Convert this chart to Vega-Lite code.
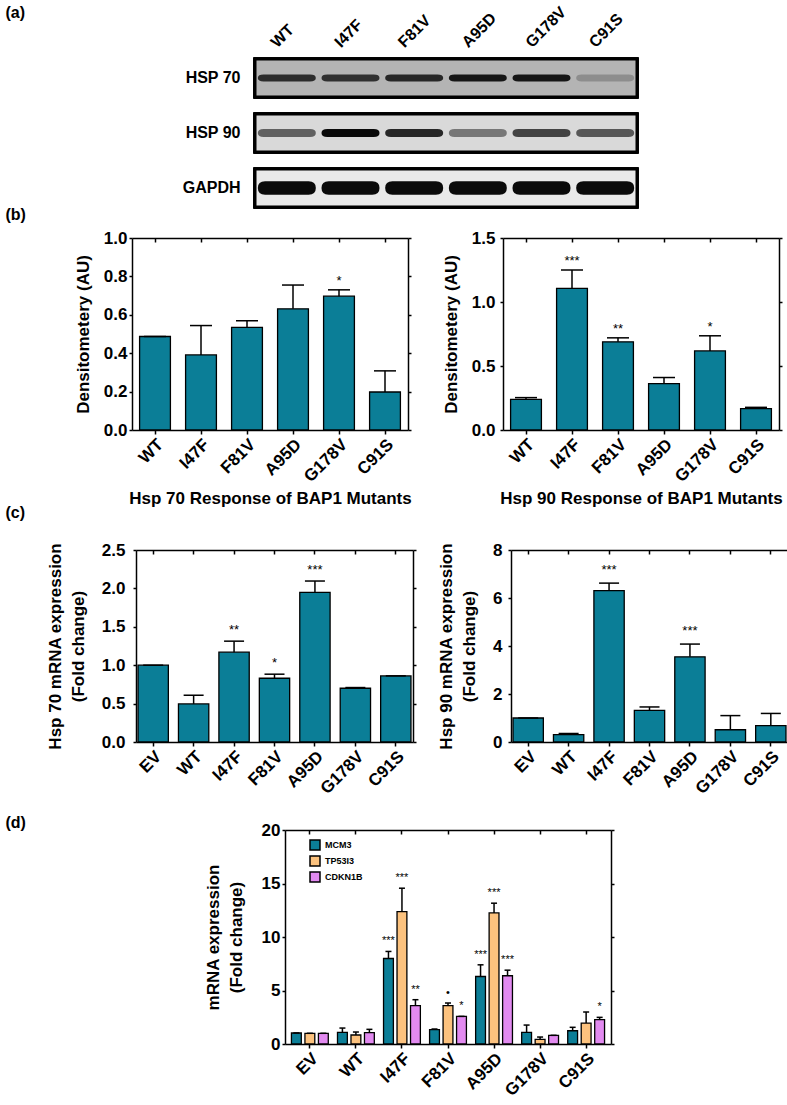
{
  "$schema": "https://vega.github.io/schema/vega-lite/v6.json",
  "background": "white",
  "padding": {"left": 5, "top": 3, "right": 0, "bottom": 5},
  "config": {
    "font": "Liberation Sans",
    "view": {"stroke": null},
    "axis": {"domainColor": "black", "domainWidth": 1.5, "tickColor": "black", "tickWidth": 1.5, "labelColor": "black", "labelFontSize": 17, "labelFontWeight": "bold", "titleColor": "black", "titleFontSize": 17, "titleFontWeight": "bold", "grid": false, "tickSize": 4, "labelPadding": 2, "labelFlush": false, "labelOverlap": false},
    "text": {"font": "Liberation Sans", "color": "black"}
  },
  "columns": 1,
  "spacing": 17,
  "resolve": {"scale": {"color": "independent", "shape": "independent"}, "legend": {"color": "independent", "shape": "independent"}},
  "concat": [
    {
      "columns": 1,
      "spacing": -3,
      "resolve": {"scale": {"color": "independent", "shape": "independent"}, "legend": {"color": "independent", "shape": "independent"}},
      "concat": [
        {
          "spacing": 156,
          "resolve": {"scale": {"color": "independent", "shape": "independent"}, "legend": {"color": "independent", "shape": "independent"}},
          "hconcat": [
            {
              "width": 1,
              "height": 1,
              "data": {"values": [{"label": "(a)"}]},
              "mark": {"type": "text", "align": "left", "baseline": "middle", "fontSize": 16, "fontWeight": "bold", "dy": -47},
              "encoding": {"text": {"field": "label"}}
            },
            {
              "width": 382,
              "height": 148,
              "data": {"values": [
                {"lane": "WT", "protein": "HSP 70", "intensity": 0.82},
                {"lane": "I47F", "protein": "HSP 70", "intensity": 0.8},
                {"lane": "F81V", "protein": "HSP 70", "intensity": 0.85},
                {"lane": "A95D", "protein": "HSP 70", "intensity": 0.95},
                {"lane": "G178V", "protein": "HSP 70", "intensity": 0.95},
                {"lane": "C91S", "protein": "HSP 70", "intensity": 0.35},
                {"lane": "WT", "protein": "HSP 90", "intensity": 0.55},
                {"lane": "I47F", "protein": "HSP 90", "intensity": 1.0},
                {"lane": "F81V", "protein": "HSP 90", "intensity": 0.85},
                {"lane": "A95D", "protein": "HSP 90", "intensity": 0.45},
                {"lane": "G178V", "protein": "HSP 90", "intensity": 0.7},
                {"lane": "C91S", "protein": "HSP 90", "intensity": 0.6},
                {"lane": "WT", "protein": "GAPDH", "intensity": 1.0},
                {"lane": "I47F", "protein": "GAPDH", "intensity": 1.0},
                {"lane": "F81V", "protein": "GAPDH", "intensity": 1.0},
                {"lane": "A95D", "protein": "GAPDH", "intensity": 1.0},
                {"lane": "G178V", "protein": "GAPDH", "intensity": 1.0},
                {"lane": "C91S", "protein": "GAPDH", "intensity": 1.0}
              ]},
              "layer": [
                {
                  "mark": {"type": "rect", "stroke": "black", "strokeWidth": 3},
                  "encoding": {
                    "y": {"field": "protein", "type": "nominal", "sort": ["HSP 70", "HSP 90", "GAPDH"], "scale": {"paddingInner": 0.31, "paddingOuter": 0}, "axis": {"title": null, "domain": false, "ticks": false, "labelPadding": 15, "labelFontSize": 16}},
                    "color": {"field": "protein", "type": "nominal", "scale": {"domain": ["HSP 70", "HSP 90", "GAPDH"], "range": ["#b4b4b4", "#d9d9d9", "#e9e9e9"]}, "legend": null}
                  }
                },
                {
                  "mark": {"type": "point", "filled": true, "size": 3364, "opacity": 1},
                  "encoding": {
                    "x": {"field": "lane", "type": "nominal", "sort": ["WT", "I47F", "F81V", "A95D", "G178V", "C91S"], "axis": {"orient": "top", "title": null, "domain": false, "ticks": false, "labelAngle": -45, "labelPadding": 9, "labelOffset": -8, "labelFontSize": 16}},
                    "y": {"field": "protein", "type": "nominal", "sort": ["HSP 70", "HSP 90", "GAPDH"]},
                    "shape": {"field": "protein", "type": "nominal", "scale": {"domain": ["HSP 70", "HSP 90", "GAPDH"], "range": [
                      "M-1,0 Q-1,-0.12 -0.8,-0.12 L0.8,-0.12 Q1,-0.12 1,0 Q1,0.12 0.8,0.12 L-0.8,0.12 Q-1,0.12 -1,0 Z",
                      "M-1,0 Q-1,-0.14 -0.8,-0.14 L0.8,-0.14 Q1,-0.14 1,0 Q1,0.14 0.8,0.14 L-0.8,0.14 Q-1,0.14 -1,0 Z",
                      "M-1,0 Q-1,-0.23 -0.75,-0.23 L0.75,-0.23 Q1,-0.23 1,0 Q1,0.23 0.75,0.23 L-0.75,0.23 Q-1,0.23 -1,0 Z"
                    ]}, "legend": null},
                    "color": {"field": "intensity", "type": "quantitative", "scale": {"domain": [0, 1], "range": ["#dedede", "#0a0a0a"]}, "legend": null}
                  }
                }
              ],
              "resolve": {"scale": {"color": "independent"}}
            }
          ]
        },
        {
          "spacing": 48,
          "hconcat": [
            {
              "width": 1,
              "height": 1,
              "data": {"values": [{"label": "(b)"}]},
              "mark": {"type": "text", "align": "left", "baseline": "middle", "fontSize": 16, "fontWeight": "bold", "dy": -24},
              "encoding": {"text": {"field": "label"}}
            },
            {
              "spacing": 30,
              "hconcat": [
                {
                  "width": 276,
                  "height": 192,
                  "data": {"values": [
                    {"g": "WT", "v": 0.487, "hi": 0.487, "sig": ""},
                    {"g": "I47F", "v": 0.391, "hi": 0.544, "sig": ""},
                    {"g": "F81V", "v": 0.534, "hi": 0.569, "sig": ""},
                    {"g": "A95D", "v": 0.631, "hi": 0.755, "sig": ""},
                    {"g": "G178V", "v": 0.697, "hi": 0.73, "sig": "*"},
                    {"g": "C91S", "v": 0.198, "hi": 0.308, "sig": ""}
                  ]},
                  "layer": [
                    {
                      "mark": {"type": "bar", "fill": "#0b7e97", "stroke": "black", "strokeWidth": 1.3},
                      "encoding": {
                        "x": {"field": "g", "type": "nominal", "sort": null, "scale": {"paddingInner": 0.33, "paddingOuter": 0.165}, "axis": {"orient": "bottom", "labelAngle": -45, "title": "Hsp 70 Response of BAP1 Mutants", "titleFontSize": 17, "titlePadding": 6}},
                        "y": {"field": "v", "type": "quantitative", "scale": {"domain": [0, 1], "nice": false}, "axis": {"orient": "left", "values": [0, 0.2, 0.4, 0.6, 0.8, 1], "format": ".1f", "tickSize": 3, "title": "Densitometery (AU)", "titlePadding": 11}}
                      }
                    },
                    {
                      "mark": {"type": "rule", "strokeWidth": 1.5, "color": "black"},
                      "encoding": {
                        "x": {"field": "g", "type": "nominal", "sort": null, "axis": null},
                        "y": {"field": "v", "type": "quantitative", "scale": {"domain": [0, 1], "nice": false}, "axis": null},
                        "y2": {"field": "hi"}
                      }
                    },
                    {
                      "mark": {"type": "tick", "thickness": 1.5, "size": 22, "color": "black", "opacity": 1},
                      "encoding": {
                        "x": {"field": "g", "type": "nominal", "sort": null, "axis": null},
                        "y": {"field": "hi", "type": "quantitative", "scale": {"domain": [0, 1], "nice": false}, "axis": null}
                      }
                    },
                    {
                      "mark": {"type": "text", "dy": -9, "fontSize": 13},
                      "encoding": {
                        "x": {"field": "g", "type": "nominal", "sort": null, "axis": null},
                        "y": {"field": "hi", "type": "quantitative", "scale": {"domain": [0, 1], "nice": false}, "axis": null},
                        "text": {"field": "sig"}
                      }
                    },
                    {
                      "mark": {"type": "point", "opacity": 0},
                      "encoding": {
                        "x": {"field": "g", "type": "nominal", "sort": null, "axis": {"orient": "top", "labels": false, "tickSize": -4, "title": null}},
                        "y": {"field": "v", "type": "quantitative", "scale": {"domain": [0, 1], "nice": false}, "axis": {"orient": "right", "labels": false, "values": [0, 0.2, 0.4, 0.6, 0.8, 1], "tickSize": 3, "title": null}}
                      }
                    }
                  ],
                  "resolve": {"axis": {"x": "independent", "y": "independent"}}
                },
                {
                  "width": 276,
                  "height": 192,
                  "data": {"values": [
                    {"g": "WT", "v": 0.24, "hi": 0.253, "sig": ""},
                    {"g": "I47F", "v": 1.106, "hi": 1.25, "sig": "***"},
                    {"g": "F81V", "v": 0.689, "hi": 0.72, "sig": "**"},
                    {"g": "A95D", "v": 0.363, "hi": 0.41, "sig": ""},
                    {"g": "G178V", "v": 0.618, "hi": 0.736, "sig": "*"},
                    {"g": "C91S", "v": 0.167, "hi": 0.177, "sig": ""}
                  ]},
                  "layer": [
                    {
                      "mark": {"type": "bar", "fill": "#0b7e97", "stroke": "black", "strokeWidth": 1.3},
                      "encoding": {
                        "x": {"field": "g", "type": "nominal", "sort": null, "scale": {"paddingInner": 0.33, "paddingOuter": 0.165}, "axis": {"orient": "bottom", "labelAngle": -45, "title": "Hsp 90 Response of BAP1 Mutants", "titleFontSize": 17, "titlePadding": 6}},
                        "y": {"field": "v", "type": "quantitative", "scale": {"domain": [0, 1.5], "nice": false}, "axis": {"orient": "left", "values": [0, 0.5, 1, 1.5], "format": ".1f", "tickSize": 3, "labelPadding": 5, "title": "Densitometery (AU)", "titlePadding": 11}}
                      }
                    },
                    {
                      "mark": {"type": "rule", "strokeWidth": 1.5, "color": "black"},
                      "encoding": {
                        "x": {"field": "g", "type": "nominal", "sort": null, "axis": null},
                        "y": {"field": "v", "type": "quantitative", "scale": {"domain": [0, 1.5], "nice": false}, "axis": null},
                        "y2": {"field": "hi"}
                      }
                    },
                    {
                      "mark": {"type": "tick", "thickness": 1.5, "size": 22, "color": "black", "opacity": 1},
                      "encoding": {
                        "x": {"field": "g", "type": "nominal", "sort": null, "axis": null},
                        "y": {"field": "hi", "type": "quantitative", "scale": {"domain": [0, 1.5], "nice": false}, "axis": null}
                      }
                    },
                    {
                      "mark": {"type": "text", "dy": -9, "fontSize": 13},
                      "encoding": {
                        "x": {"field": "g", "type": "nominal", "sort": null, "axis": null},
                        "y": {"field": "hi", "type": "quantitative", "scale": {"domain": [0, 1.5], "nice": false}, "axis": null},
                        "text": {"field": "sig"}
                      }
                    },
                    {
                      "mark": {"type": "point", "opacity": 0},
                      "encoding": {
                        "x": {"field": "g", "type": "nominal", "sort": null, "axis": {"orient": "top", "labels": false, "tickSize": -4, "title": null}},
                        "y": {"field": "v", "type": "quantitative", "scale": {"domain": [0, 1.5], "nice": false}, "axis": {"orient": "right", "labels": false, "values": [0, 0.5, 1, 1.5], "tickSize": 3, "title": null}}
                      }
                    }
                  ],
                  "resolve": {"axis": {"x": "independent", "y": "independent"}}
                }
              ]
            }
          ]
        },
        {
          "spacing": 20,
          "hconcat": [
            {
              "width": 1,
              "height": 1,
              "data": {"values": [{"label": "(c)"}]},
              "mark": {"type": "text", "align": "left", "baseline": "middle", "fontSize": 16, "fontWeight": "bold", "dy": -38},
              "encoding": {"text": {"field": "label"}}
            },
            {
              "spacing": 20,
              "hconcat": [
                {
                  "width": 277,
                  "height": 192,
                  "data": {"values": [
                    {"g": "EV", "v": 1.0, "hi": 1.0, "sig": ""},
                    {"g": "WT", "v": 0.496, "hi": 0.609, "sig": ""},
                    {"g": "I47F", "v": 1.17, "hi": 1.313, "sig": "**"},
                    {"g": "F81V", "v": 0.83, "hi": 0.883, "sig": "*"},
                    {"g": "A95D", "v": 1.948, "hi": 2.096, "sig": "***"},
                    {"g": "G178V", "v": 0.7, "hi": 0.709, "sig": ""},
                    {"g": "C91S", "v": 0.861, "hi": 0.861, "sig": ""}
                  ]},
                  "layer": [
                    {
                      "mark": {"type": "bar", "fill": "#0b7e97", "stroke": "black", "strokeWidth": 1.3},
                      "encoding": {
                        "x": {"field": "g", "type": "nominal", "sort": null, "scale": {"paddingInner": 0.25, "paddingOuter": 0.05}, "axis": {"orient": "bottom", "labelAngle": -45, "title": null}},
                        "y": {"field": "v", "type": "quantitative", "scale": {"domain": [0, 2.5], "nice": false}, "axis": {"orient": "left", "values": [0, 0.5, 1, 1.5, 2, 2.5], "format": ".1f", "tickSize": 3, "labelPadding": 8, "title": ["Hsp 70 mRNA expression", "(Fold change)"], "titleLineHeight": 23, "titlePadding": 14}}
                      }
                    },
                    {
                      "mark": {"type": "rule", "strokeWidth": 1.5, "color": "black"},
                      "encoding": {
                        "x": {"field": "g", "type": "nominal", "sort": null, "axis": null},
                        "y": {"field": "v", "type": "quantitative", "scale": {"domain": [0, 2.5], "nice": false}, "axis": null},
                        "y2": {"field": "hi"}
                      }
                    },
                    {
                      "mark": {"type": "tick", "thickness": 1.5, "size": 20, "color": "black", "opacity": 1},
                      "encoding": {
                        "x": {"field": "g", "type": "nominal", "sort": null, "axis": null},
                        "y": {"field": "hi", "type": "quantitative", "scale": {"domain": [0, 2.5], "nice": false}, "axis": null}
                      }
                    },
                    {
                      "mark": {"type": "text", "dy": -11, "fontSize": 13},
                      "encoding": {
                        "x": {"field": "g", "type": "nominal", "sort": null, "axis": null},
                        "y": {"field": "hi", "type": "quantitative", "scale": {"domain": [0, 2.5], "nice": false}, "axis": null},
                        "text": {"field": "sig"}
                      }
                    },
                    {
                      "mark": {"type": "point", "opacity": 0},
                      "encoding": {
                        "x": {"field": "g", "type": "nominal", "sort": null, "axis": {"orient": "top", "labels": false, "tickSize": -4, "title": null}},
                        "y": {"field": "v", "type": "quantitative", "scale": {"domain": [0, 2.5], "nice": false}, "axis": {"orient": "right", "labels": false, "values": [0, 0.5, 1, 1.5, 2, 2.5], "tickSize": 3, "title": null}}
                      }
                    }
                  ],
                  "resolve": {"axis": {"x": "independent", "y": "independent"}}
                },
                {
                  "width": 277,
                  "height": 192,
                  "data": {"values": [
                    {"g": "EV", "v": 1.0, "hi": 1.0, "sig": ""},
                    {"g": "WT", "v": 0.305, "hi": 0.35, "sig": ""},
                    {"g": "I47F", "v": 6.31, "hi": 6.62, "sig": "***"},
                    {"g": "F81V", "v": 1.32, "hi": 1.46, "sig": ""},
                    {"g": "A95D", "v": 3.55, "hi": 4.08, "sig": "***"},
                    {"g": "G178V", "v": 0.51, "hi": 1.1, "sig": ""},
                    {"g": "C91S", "v": 0.68, "hi": 1.19, "sig": ""}
                  ]},
                  "layer": [
                    {
                      "mark": {"type": "bar", "fill": "#0b7e97", "stroke": "black", "strokeWidth": 1.3},
                      "encoding": {
                        "x": {"field": "g", "type": "nominal", "sort": null, "scale": {"paddingInner": 0.25, "paddingOuter": 0.05}, "axis": {"orient": "bottom", "labelAngle": -45, "title": null}},
                        "y": {"field": "v", "type": "quantitative", "scale": {"domain": [0, 8], "nice": false}, "axis": {"orient": "left", "values": [0, 2, 4, 6, 8], "format": "d", "tickSize": 3, "labelPadding": 6, "title": ["Hsp 90 mRNA expression", "(Fold change)"], "titleLineHeight": 23, "titlePadding": 14}}
                      }
                    },
                    {
                      "mark": {"type": "rule", "strokeWidth": 1.5, "color": "black"},
                      "encoding": {
                        "x": {"field": "g", "type": "nominal", "sort": null, "axis": null},
                        "y": {"field": "v", "type": "quantitative", "scale": {"domain": [0, 8], "nice": false}, "axis": null},
                        "y2": {"field": "hi"}
                      }
                    },
                    {
                      "mark": {"type": "tick", "thickness": 1.5, "size": 20, "color": "black", "opacity": 1},
                      "encoding": {
                        "x": {"field": "g", "type": "nominal", "sort": null, "axis": null},
                        "y": {"field": "hi", "type": "quantitative", "scale": {"domain": [0, 8], "nice": false}, "axis": null}
                      }
                    },
                    {
                      "mark": {"type": "text", "dy": -13, "fontSize": 13},
                      "encoding": {
                        "x": {"field": "g", "type": "nominal", "sort": null, "axis": null},
                        "y": {"field": "hi", "type": "quantitative", "scale": {"domain": [0, 8], "nice": false}, "axis": null},
                        "text": {"field": "sig"}
                      }
                    },
                    {
                      "mark": {"type": "point", "opacity": 0},
                      "encoding": {
                        "x": {"field": "g", "type": "nominal", "sort": null, "axis": {"orient": "top", "labels": false, "tickSize": -4, "title": null}},
                        "y": {"field": "v", "type": "quantitative", "scale": {"domain": [0, 8], "nice": false}, "axis": {"orient": "right", "labels": false, "values": [0, 2, 4, 6, 8], "tickSize": 3, "title": null}}
                      }
                    }
                  ],
                  "resolve": {"axis": {"x": "independent", "y": "independent"}}
                }
              ]
            }
          ]
        }
      ]
    },
    {
      "spacing": 178,
      "resolve": {"scale": {"color": "independent"}, "legend": {"color": "independent"}},
      "hconcat": [
        {
          "width": 1,
          "height": 1,
          "data": {"values": [{"label": "(d)"}]},
          "mark": {"type": "text", "align": "left", "baseline": "middle", "fontSize": 16, "fontWeight": "bold", "dy": -8},
          "encoding": {"text": {"field": "label"}}
        },
        {
          "width": 326,
          "height": 214,
          "data": {"values": [
            {"g": "EV", "s": "MCM3", "v": 1.03, "hi": 1.03, "sig": ""},
            {"g": "EV", "s": "TP53I3", "v": 1.0, "hi": 1.0, "sig": ""},
            {"g": "EV", "s": "CDKN1B", "v": 1.0, "hi": 1.0, "sig": ""},
            {"g": "WT", "s": "MCM3", "v": 1.09, "hi": 1.49, "sig": ""},
            {"g": "WT", "s": "TP53I3", "v": 0.84, "hi": 1.12, "sig": ""},
            {"g": "WT", "s": "CDKN1B", "v": 1.06, "hi": 1.37, "sig": ""},
            {"g": "I47F", "s": "MCM3", "v": 7.99, "hi": 8.65, "sig": "***"},
            {"g": "I47F", "s": "TP53I3", "v": 12.38, "hi": 14.56, "sig": "***"},
            {"g": "I47F", "s": "CDKN1B", "v": 3.58, "hi": 4.14, "sig": "**"},
            {"g": "F81V", "s": "MCM3", "v": 1.34, "hi": 1.4, "sig": ""},
            {"g": "F81V", "s": "TP53I3", "v": 3.58, "hi": 3.83, "sig": "•"},
            {"g": "F81V", "s": "CDKN1B", "v": 2.58, "hi": 2.58, "sig": "*"},
            {"g": "A95D", "s": "MCM3", "v": 6.31, "hi": 7.4, "sig": "***"},
            {"g": "A95D", "s": "TP53I3", "v": 12.25, "hi": 13.16, "sig": "***"},
            {"g": "A95D", "s": "CDKN1B", "v": 6.38, "hi": 6.9, "sig": "***"},
            {"g": "G178V", "s": "MCM3", "v": 1.09, "hi": 1.77, "sig": ""},
            {"g": "G178V", "s": "TP53I3", "v": 0.44, "hi": 0.65, "sig": ""},
            {"g": "G178V", "s": "CDKN1B", "v": 0.81, "hi": 0.81, "sig": ""},
            {"g": "C91S", "s": "MCM3", "v": 1.24, "hi": 1.56, "sig": ""},
            {"g": "C91S", "s": "TP53I3", "v": 1.96, "hi": 2.99, "sig": ""},
            {"g": "C91S", "s": "CDKN1B", "v": 2.27, "hi": 2.49, "sig": "*"}
          ]},
          "layer": [
            {
              "mark": {"type": "bar", "stroke": "black", "strokeWidth": 1.3},
              "encoding": {
                "x": {"field": "g", "type": "nominal", "sort": null, "scale": {"paddingInner": 0.2, "paddingOuter": 0.14}, "axis": {"orient": "bottom", "labelAngle": -45, "title": null}},
                "xOffset": {"field": "s", "type": "nominal", "sort": ["MCM3", "TP53I3", "CDKN1B"], "scale": {"paddingInner": 0.27, "paddingOuter": 0}},
                "y": {"field": "v", "type": "quantitative", "scale": {"domain": [0, 20], "nice": false}, "axis": {"orient": "left", "values": [0, 5, 10, 15, 20], "format": "d", "tickSize": 3, "title": ["mRNA expression", "(Fold change)"], "titleLineHeight": 23, "titlePadding": 16}},
                "color": {"field": "s", "type": "nominal", "sort": ["MCM3", "TP53I3", "CDKN1B"], "scale": {"domain": ["MCM3", "TP53I3", "CDKN1B"], "range": ["#0b7e97", "#fcc27e", "#e28af0"]}, "legend": {"orient": "none", "legendX": 24, "legendY": 9, "title": null, "symbolType": "square", "symbolSize": 100, "symbolStrokeColor": "black", "symbolStrokeWidth": 1.5, "labelFontSize": 9, "labelFontWeight": "bold", "labelColor": "black", "rowPadding": 0, "labelOffset": 4}}
              }
            },
            {
              "mark": {"type": "rule", "strokeWidth": 1.5, "color": "black"},
              "encoding": {
                "x": {"field": "g", "type": "nominal", "sort": null, "axis": null},
                "xOffset": {"field": "s", "type": "nominal", "sort": ["MCM3", "TP53I3", "CDKN1B"]},
                "y": {"field": "v", "type": "quantitative", "scale": {"domain": [0, 20], "nice": false}, "axis": null},
                "y2": {"field": "hi"}
              }
            },
            {
              "mark": {"type": "tick", "thickness": 1.5, "size": 6, "color": "black", "opacity": 1},
              "encoding": {
                "x": {"field": "g", "type": "nominal", "sort": null, "axis": null},
                "xOffset": {"field": "s", "type": "nominal", "sort": ["MCM3", "TP53I3", "CDKN1B"]},
                "y": {"field": "hi", "type": "quantitative", "scale": {"domain": [0, 20], "nice": false}, "axis": null}
              }
            },
            {
              "mark": {"type": "text", "dy": -10, "fontSize": 11},
              "encoding": {
                "x": {"field": "g", "type": "nominal", "sort": null, "axis": null},
                "xOffset": {"field": "s", "type": "nominal", "sort": ["MCM3", "TP53I3", "CDKN1B"]},
                "y": {"field": "hi", "type": "quantitative", "scale": {"domain": [0, 20], "nice": false}, "axis": null},
                "text": {"field": "sig"}
              }
            },
            {
              "mark": {"type": "point", "opacity": 0},
              "encoding": {
                "x": {"field": "g", "type": "nominal", "sort": null, "axis": {"orient": "top", "labels": false, "tickSize": -4, "title": null}},
                "y": {"field": "v", "type": "quantitative", "scale": {"domain": [0, 20], "nice": false}, "axis": {"orient": "right", "labels": false, "values": [0, 5, 10, 15, 20], "tickSize": 3, "title": null}}
              }
            }
          ],
          "resolve": {"axis": {"x": "independent", "y": "independent"}}
        }
      ]
    }
  ]
}
